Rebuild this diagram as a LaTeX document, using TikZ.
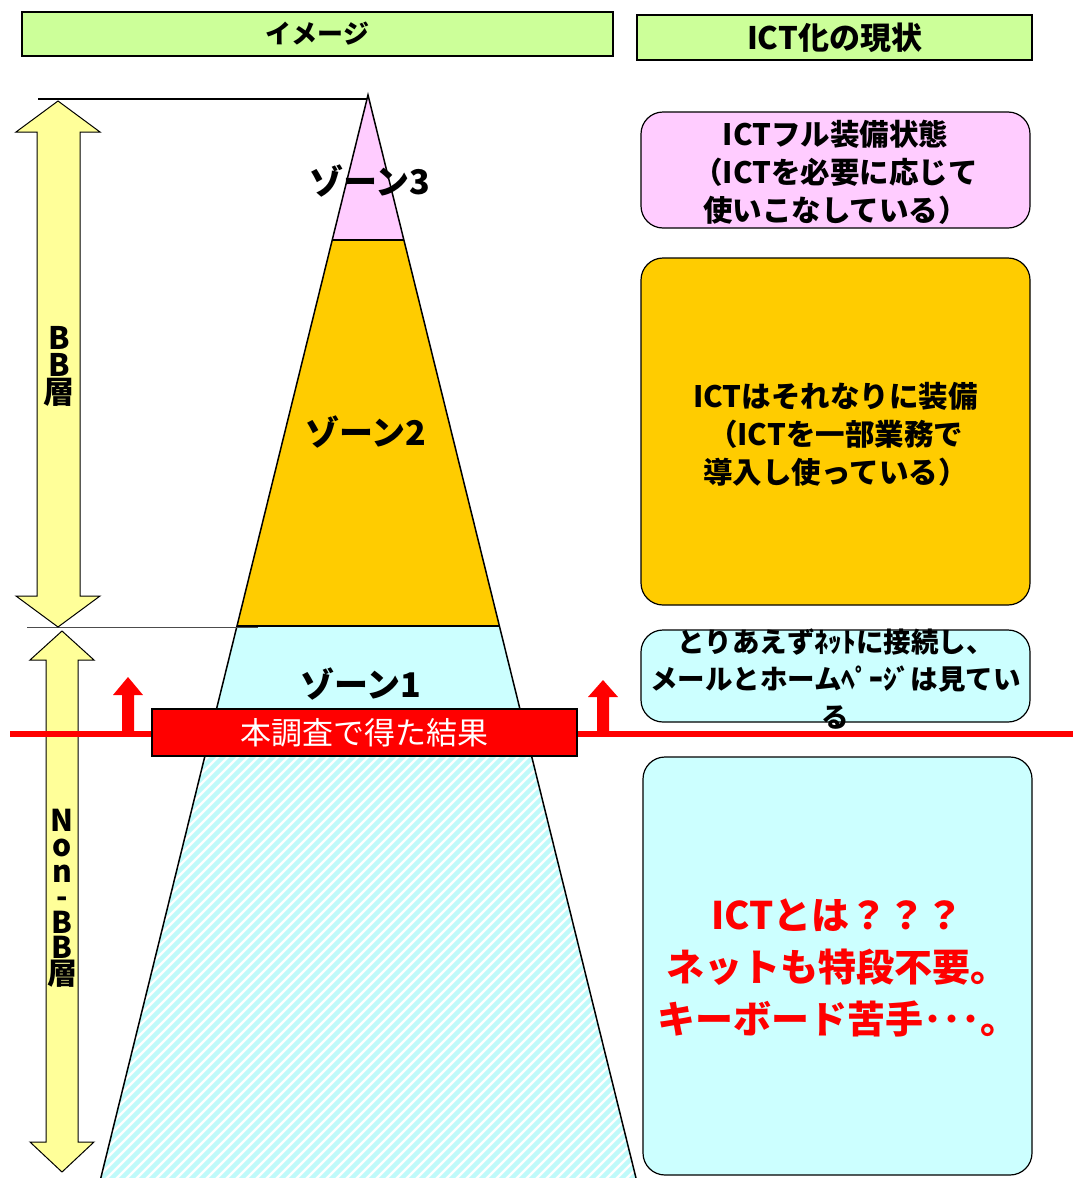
\documentclass[tikz,border=0pt]{standalone}
\usepackage{fontspec}
\setmainfont{Noto Sans CJK JP}
\begin{document}
\begin{tikzpicture}[x=1pt,y=-1pt,
  hdr/.style={draw=black,line width=1.5pt,fill=hdrgreen,font=\fontsize{26}{30}\selectfont\bfseries},
  rbox/.style={draw=black,line width=1.2pt,rounded corners=22pt},
  boxtxt/.style={align=center,font=\fontsize{29.5}{38}\selectfont\bfseries,inner sep=0pt},
  zonetxt/.style={font=\fontsize{34}{38}\selectfont\bfseries,inner sep=0pt},
  larrow/.style={draw=black,line width=1pt,fill=arryellow},
  redarrow/.style={fill=red,draw=none}]
\definecolor{hdrgreen}{HTML}{CCFF99}
\definecolor{zpink}{HTML}{FFCCFF}
\definecolor{zorange}{HTML}{FFCC00}
\definecolor{zcyan}{HTML}{CCFFFF}
\definecolor{arryellow}{HTML}{FFFF99}
\definecolor{hatchc}{HTML}{C0FAFA}
\useasboundingbox (0,0) rectangle (1073,1178);
\fill[white] (0,0) rectangle (1073,1178);

% headers
\node[hdr,minimum width=591pt,minimum height=44pt] (hA) at (317.5,34) {イメージ};
\node[hdr,minimum width=395pt,minimum height=45pt,font=\fontsize{31}{34}\selectfont\bfseries] (hB) at (834.5,37.5) {ICT化の現状};

% pyramid
\coordinate (apex) at (368,95);
\fill[zpink] (apex) -- (403.9,240) -- (332.2,240) -- cycle;
\fill[zorange] (332.2,240) -- (403.9,240) -- (499.4,626) -- (237,626) -- cycle;
\fill[zcyan] (237,626) -- (499.4,626) -- (527.6,740) -- (208.9,740) -- cycle;
\begin{scope}
\clip (208.9,740) -- (527.6,740) -- (636,1178) -- (100.8,1178) -- cycle;
\foreach \i in {-1300,-1290,...,700} {
  \draw[hatchc,line width=4.5pt] (\i,1180) -- ++(560,-560);
}
\end{scope}
\draw[black,line width=1.5pt] (100.8,1178) -- (apex) -- (636,1178);
\draw[black,line width=1.5pt] (332.2,240) -- (403.9,240);
\draw[black,line width=1.5pt] (237,626) -- (499.4,626);

% guide lines
\coordinate (topend) at (367,99);
\draw[black,line width=1.3pt] (38,99) -- (topend);
\draw[black!70,line width=0.8pt] (27,627) -- (258,627);

% BB arrow
\draw[larrow] (58,101) -- (100,132) -- (80,132) -- (80,596) -- (100,596) -- (58,627)
  -- (16,596) -- (37,596) -- (37,132) -- (16,132) -- cycle;
\node[align=center,inner sep=0pt,font=\fontsize{31}{27}\selectfont\bfseries] (bbt) at (59,366) {B\\B\\層};

% Non-BB arrow
\draw[larrow] (62,631) -- (94,660) -- (78,660) -- (78,1142) -- (94,1142) -- (62,1172)
  -- (30,1142) -- (46,1142) -- (46,660) -- (30,660) -- cycle;
\node[align=center,inner sep=0pt,font=\fontsize{30}{25.5}\selectfont\bfseries] (nbbt) at (62,898) {N\\o\\n\\-\\B\\B\\層};

% zone labels
\node[zonetxt] (z3) at (370,181) {ゾーン3};
\node[zonetxt] (z2) at (366,432) {ゾーン2};
\node[zonetxt] (z1) at (361,684) {ゾーン1};

% red line and arrows
\draw[red,line width=6pt] (10,734) -- (1073,734);
\fill[redarrow] (122,731) -- (122,695) -- (113,695) -- (128,677) -- (143,695) -- (134,695) -- (134,731) -- cycle;
\fill[redarrow] (597,731) -- (597,697) -- (588,697) -- (603,680) -- (618,697) -- (609,697) -- (609,731) -- cycle;
\node[draw=black,line width=1.5pt,fill=red,minimum width=425pt,minimum height=47pt,text=white,
  font=\fontsize{31}{34}\selectfont] (res) at (364.5,732.5) {本調査で得た結果};

% right boxes
\node[rbox,fill=zpink,minimum width=389pt,minimum height=116pt] (b3) at (835.5,170) {};
\node[boxtxt] (t3) at (835.5,172) {ICTフル装備状態\\（ICTを必要に応じて\\使いこなしている）};
\node[rbox,fill=zorange,minimum width=389pt,minimum height=347pt] (b2) at (835.5,431.5) {};
\node[boxtxt] (t2) at (835.5,434) {ICTはそれなりに装備\\（ICTを一部業務で\\導入し使っている）};
\node[rbox,fill=zcyan,minimum width=389pt,minimum height=92pt] (b1) at (835.5,676) {};
\node[boxtxt,font=\fontsize{27.5}{37.5}\selectfont\bfseries] (t1) at (835.5,679) {とりあえずﾈｯﾄに接続し、\\メールとホームﾍﾟｰｼﾞは見てい\\る};
\node[rbox,fill=zcyan,minimum width=389pt,minimum height=418pt] (b0) at (837.5,966) {};
\node[align=center,inner sep=0pt,text=red,font=\fontsize{38}{52}\selectfont\bfseries] (t0) at (837.5,968) {ICTとは？？？\\ネットも特段不要。\\キーボード苦手･･･。};
\end{tikzpicture}
\end{document}
